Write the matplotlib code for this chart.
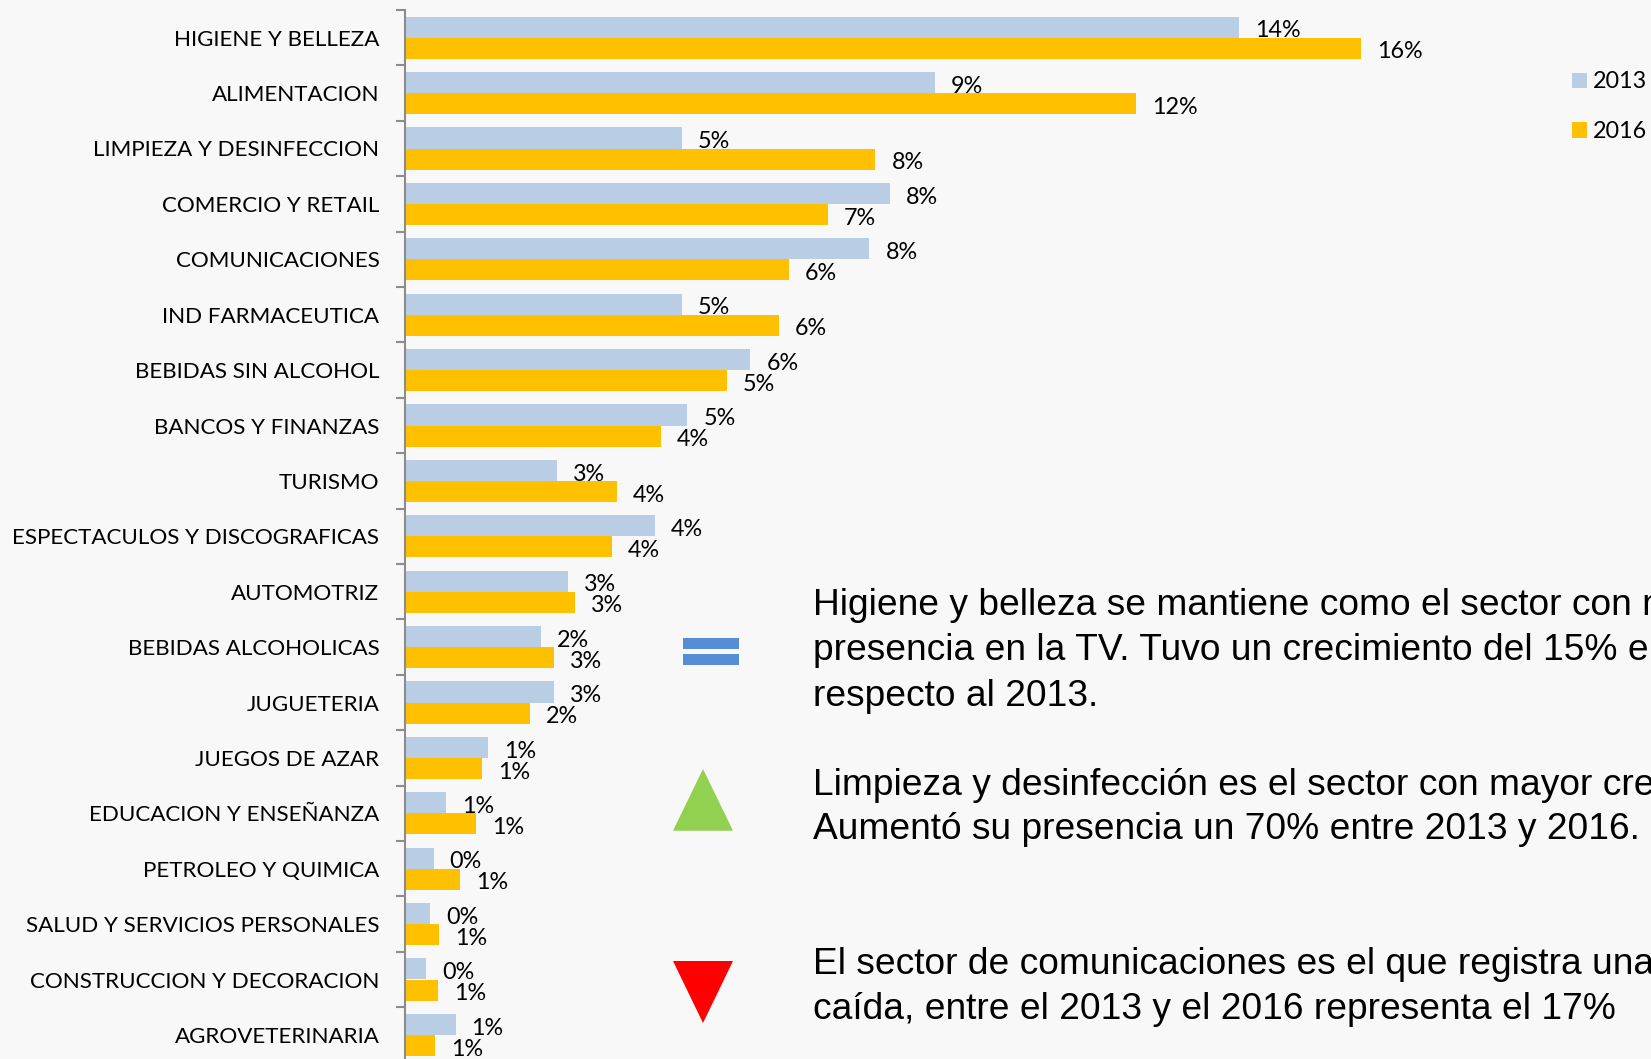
import matplotlib
matplotlib.use("Agg")
import matplotlib.pyplot as plt
from matplotlib.patches import Polygon, Rectangle
import numpy as np

W, H = 1651, 1059
BG = "#F8F8F8"

sectors = ["HIGIENE Y BELLEZA", "ALIMENTACION", "LIMPIEZA Y DESINFECCION", "COMERCIO Y RETAIL",
           "COMUNICACIONES", "IND FARMACEUTICA", "BEBIDAS SIN ALCOHOL", "BANCOS Y FINANZAS",
           "TURISMO", "ESPECTACULOS Y DISCOGRAFICAS", "AUTOMOTRIZ", "BEBIDAS ALCOHOLICAS",
           "JUGUETERIA", "JUEGOS DE AZAR", "EDUCACION Y ENSEÑANZA", "PETROLEO Y QUIMICA",
           "SALUD Y SERVICIOS PERSONALES", "CONSTRUCCION Y DECORACION", "AGROVETERINARIA"]
values_2013 = [14.0, 8.9, 4.65, 8.14, 7.8, 4.65, 5.8, 4.74, 2.55, 4.2, 2.74, 2.28, 2.5,
               1.4, 0.69, 0.48, 0.42, 0.35, 0.85]
values_2016 = [16.05, 12.28, 7.9, 7.1, 6.44, 6.28, 5.4, 4.3, 3.56, 3.47, 2.85, 2.5, 2.1,
               1.3, 1.19, 0.92, 0.57, 0.55, 0.5]
labels_2013 = ["14%", "9%", "5%", "8%", "8%", "5%", "6%", "5%", "3%", "4%", "3%", "2%", "3%",
               "1%", "1%", "0%", "0%", "0%", "1%"]
labels_2016 = ["16%", "12%", "8%", "7%", "6%", "6%", "5%", "4%", "4%", "4%", "3%", "3%", "2%",
               "1%", "1%", "1%", "1%", "1%", "1%"]

# the original is cropped on the right, lines stop where the crop does
notes = [
    (575, "Higiene y belleza se mantiene como el sector con m"),
    (618, "presencia en la TV. Tuvo un crecimiento del 15% en"),
    (661, "respecto al 2013."),
    (746, "Limpieza y desinfección es el sector con mayor cre"),
    (788, "Aumentó su presencia un 70% entre 2013 y 2016."),
    (916, "El sector de comunicaciones es el que registra una"),
    (959, "caída, entre el 2013 y el 2016 representa el 17%"),
]

def fx(px):
    return px / W

def fy(py):
    return 1 - py / H

fig = plt.figure(figsize=(W / 100, H / 100), dpi=100, facecolor=BG)
# axes run off the right and bottom edges like the cropped original
ax = fig.add_axes([fx(405), 0, 1 - fx(405), fy(10)], facecolor=BG)

y = np.arange(len(sectors))
bar_h = 0.38
bars_2013 = ax.barh(y - bar_h / 2, values_2013, bar_h, color="#B9CDE5", label="2013")
bars_2016 = ax.barh(y + bar_h / 2, values_2016, bar_h, color="#FFC000", label="2016")

for bars, texts in ((bars_2013, labels_2013), (bars_2016, labels_2016)):
    labels = ax.bar_label(bars, labels=texts, padding=11.5, fontsize=16.8, family="Lato", color="black")
    for t in labels:
        t.xyann = (t.xyann[0], t.xyann[1] - 2.7)

ax.set_xticks([])
for side in ("top", "right", "bottom"):
    ax.spines[side].set_visible(False)
ax.spines["left"].set_color("#8C8C8C")
ax.spines["left"].set_linewidth(1.5)

# tick marks sit between the categories, labels on the categories
ax.set_yticks(np.arange(-0.5, len(sectors)), labels=[])
ax.tick_params(axis="y", which="major", length=6.5, width=1.5, color="#8C8C8C")
ax.set_yticks(y, labels=sectors, minor=True)
ax.tick_params(axis="y", which="minor", length=0, pad=18.4, labelsize=16.1)
for lab in ax.get_yticklabels(minor=True):
    lab.set_family("Lato")

# limits last, set_yticks widens them otherwise
ax.set_xlim(0, (W - 405) / 59.55)
ax.set_ylim((H - 10) / 55.4 - 0.5, -0.5)

fig.legend(handles=[bars_2013, bars_2016], loc="upper left", bbox_to_anchor=(fx(1572), fy(71.5)),
           frameon=False, prop={"family": "Lato", "size": 16.8}, handlelength=0.65, handleheight=0.65,
           handletextpad=0.23, labelspacing=1.24, borderpad=0, borderaxespad=0)

for py, line in notes:
    fig.text(fx(813), fy(py * 1.053), line, family="Liberation Sans", fontsize=26.7, va="center", ha="left", color="black")

# marker shapes next to the notes
fig.add_artist(Rectangle((fx(682.5), fy(648.7)), fx(56), 11 / H, transform=fig.transFigure, color="#558ED5", lw=0))
fig.add_artist(Rectangle((fx(682.5), fy(665)), fx(56), 11 / H, transform=fig.transFigure, color="#558ED5", lw=0))
fig.add_artist(Polygon([(fx(673), fy(830.7)), (fx(733), fy(830.7)), (fx(703), fy(769))], transform=fig.transFigure, color="#92D050", lw=0))
fig.add_artist(Polygon([(fx(673), fy(961)), (fx(733), fy(961)), (fx(703), fy(1023))], transform=fig.transFigure, color="#FF0000", lw=0))

fig.savefig("out.png", dpi=100, facecolor=BG)
